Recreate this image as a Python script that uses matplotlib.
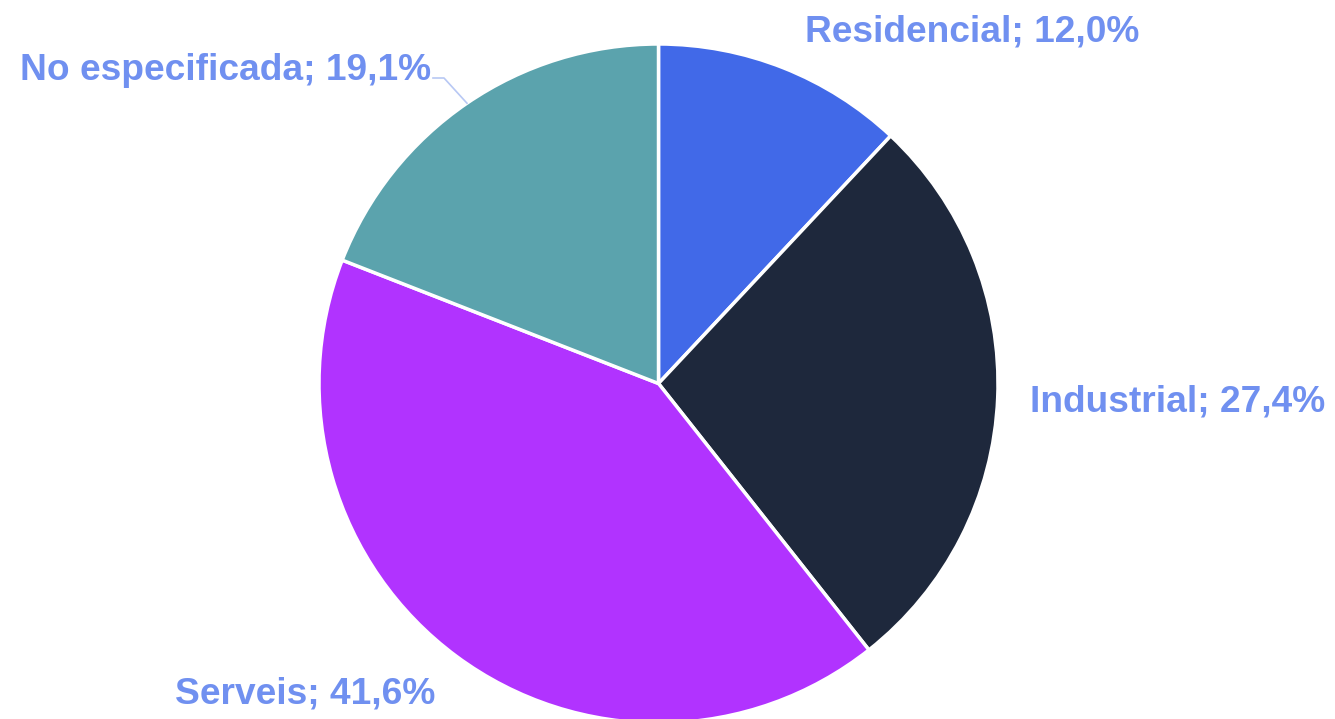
import numpy as np
import matplotlib
matplotlib.use('Agg')
import matplotlib.pyplot as plt

labels = ['Residencial', 'Industrial', 'Serveis', 'No especificada']
values = [12.0, 27.4, 41.6, 19.1]
colors = ['#4169e8', '#1e283c', '#b133ff', '#5ba3ad']

W, H = 1335, 719
cx, cy, R = 658.5, H - 383.5, 339.5

fig = plt.figure(figsize=(W / 100, H / 100), dpi=100)
ax = fig.add_axes([0, 0, 1, 1])

ax.pie(values, colors=colors, startangle=90, counterclock=False,
       radius=R, center=(cx, cy), frame=True,
       wedgeprops=dict(edgecolor='white', linewidth=2.5))
ax.set_xlim(0, W); ax.set_ylim(0, H)
ax.set_aspect('equal'); ax.axis('off')

lab_color = '#7090f0'
fs = 26.7
txt = [f"{l}; {v:.1f}%".replace('.', ',') for l, v in zip(labels, values)]
# label anchors (pixel layout)
pos = [(972, H - 32, 'center'), (1030, H - 402, 'left'),
       (305, H - 694, 'center'), (431, H - 70, 'right')]
for t, (x, y, ha) in zip(txt, pos):
    ax.text(x, y, t, ha=ha, va='center', fontsize=fs, fontweight='bold',
            color=lab_color, family=['Liberation Sans', 'DejaVu Sans'])

# leader line for the last slice
mid = (sum(values[:3]) + values[3] / 2) / sum(values)
ang = np.deg2rad(90 - 360 * mid)
ex, ey = cx + R * np.cos(ang), cy + R * np.sin(ang)
ax.plot([433, 444, ex], [H - 78, H - 78, ey], color='#b8c8f4', lw=1.2)

fig.savefig('out.png', dpi=100)
